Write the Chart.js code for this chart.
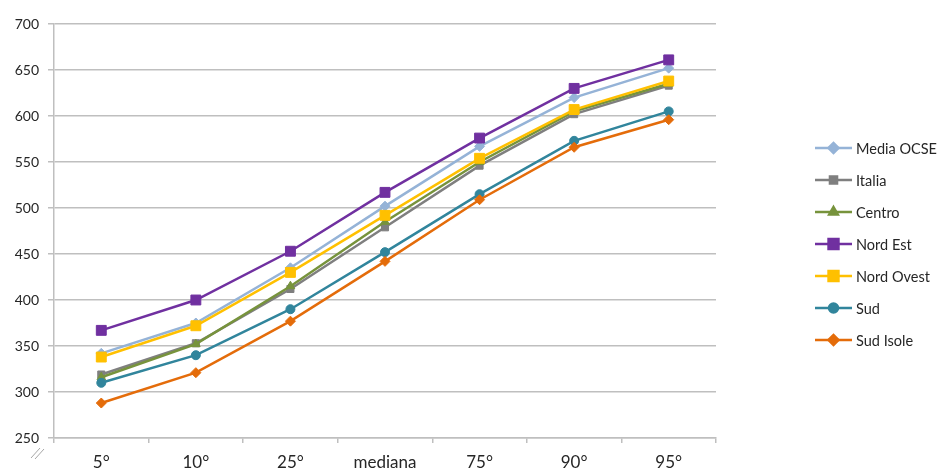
<html lang="it">
<head>
    <meta charset="UTF-8">
    <title>Percentili</title>
    <script src="https://cdn.jsdelivr.net/npm/chart.js"></script>
    <style>
        body { margin: 0; background: #fff; }
        #wrap { width: 945px; height: 469px; }
    </style>
</head>
<body>
    <div id="wrap"><canvas id="myChart" width="945" height="469"></canvas></div>

    <script>
        // categorie (percentili) sull'asse x
        const categorie = ['5°', '10°', '25°', 'mediana', '75°', '90°', '95°'];

        // valori
        const mediaOcse = [342, 375, 435, 502, 567, 620, 652];
        const italia    = [319, 353, 412, 479, 546, 602, 633];
        const centro    = [316, 352, 415, 485, 550, 605, 635];
        const nordEst   = [367, 400, 453, 517, 576, 630, 661];
        const nordOvest = [338, 372, 430, 492, 554, 607, 638];
        const sud       = [310, 340, 390, 452, 515, 573, 605];
        const sudIsole  = [288, 321, 377, 442, 509, 566, 596];

        const yMin = 250, yMax = 700, yPasso = 50;

        function serie(label, data, colore, stile, raggio, i) {
            return {
                label: label,
                data: data,
                borderColor: colore,
                backgroundColor: colore,
                borderWidth: 2.5,
                pointStyle: stile,
                pointRadius: raggio,
                pointHoverRadius: raggio,
                pointBorderWidth: 1,
                tension: 0,
                order: 7 - i
            };
        }

        // legenda disegnata a mano (linea + marker come in Excel)
        const legendaExcel = {
            id: 'legendaExcel',
            afterDraw(chart) {
                const ctx = chart.ctx;
                chart.data.datasets.forEach((ds, i) => {
                    const y = 148 + i * 32;
                    ctx.save();
                    ctx.strokeStyle = ds.borderColor;
                    ctx.fillStyle = ds.backgroundColor;
                    ctx.lineWidth = 2.5;
                    ctx.beginPath();
                    ctx.moveTo(815, y);
                    ctx.lineTo(852, y);
                    ctx.stroke();
                    Chart.helpers.drawPoint(ctx, {
                        pointStyle: ds.pointStyle,
                        radius: ds.pointRadius,
                        rotation: 0,
                        borderWidth: 1
                    }, 833.5, y);
                    ctx.fillStyle = '#262626';
                    ctx.font = '14.5px Lato';
                    ctx.textBaseline = 'middle';
                    ctx.fillText(ds.label, 856, y + 1);
                    ctx.restore();
                });
                // segno di interruzione dell'asse
                ctx.save();
                ctx.strokeStyle = '#a6a6a6';
                ctx.lineWidth = 1;
                ctx.beginPath();
                ctx.moveTo(31, 458); ctx.lineTo(40, 448);
                ctx.moveTo(35, 459); ctx.lineTo(44, 449);
                ctx.stroke();
                ctx.restore();
            }
        };

        let ctx = document.getElementById("myChart").getContext("2d");
        let myChart = new Chart(ctx, {
            type: 'line',
            data: {
                labels: categorie,
                datasets: [
                    serie('Media OCSE', mediaOcse, '#95b3d7', 'rectRot', 5, 0),
                    serie('Italia', italia, '#7f7f7f', 'rect', 5, 1),
                    serie('Centro', centro, '#77933c', 'triangle', 5, 2),
                    serie('Nord Est', nordEst, '#7030a0', 'rect', 7, 3),
                    serie('Nord Ovest', nordOvest, '#ffc000', 'rect', 7, 4),
                    serie('Sud', sud, '#31859c', 'circle', 4.5, 5),
                    serie('Sud Isole', sudIsole, '#e46c0a', 'rectRot', 5, 6)
                ]
            },
            options: {
                responsive: false,
                animation: false,
                layout: { padding: { top: 24, right: 229, left: 0, bottom: 0 } },
                plugins: {
                    legend: { display: false },
                    tooltip: { enabled: false }
                },
                scales: {
                    x: {
                        offset: true,
                        afterFit: (s) => { s.height = 31; },
                        grid: {
                            offset: true,
                            drawOnChartArea: false,
                            drawTicks: true,
                            tickLength: 5,
                            color: '#bfbfbf',
                            lineWidth: 1.5
                        },
                        border: { color: '#bfbfbf', width: 1.5 },
                        ticks: {
                            color: '#262626',
                            font: { family: 'Lato', size: 17 },
                            padding: 9
                        }
                    },
                    y: {
                        min: yMin,
                        max: yMax,
                        afterFit: (s) => { s.width = 54; },
                        grid: {
                            color: '#bfbfbf',
                            lineWidth: 1.5,
                            tickLength: 6
                        },
                        border: { color: '#bfbfbf', width: 1.5 },
                        ticks: {
                            stepSize: yPasso,
                            color: '#262626',
                            font: { family: 'Lato', size: 14 },
                            padding: 9
                        }
                    }
                }
            },
            plugins: [legendaExcel]
        });
    </script>
</body>
</html>
